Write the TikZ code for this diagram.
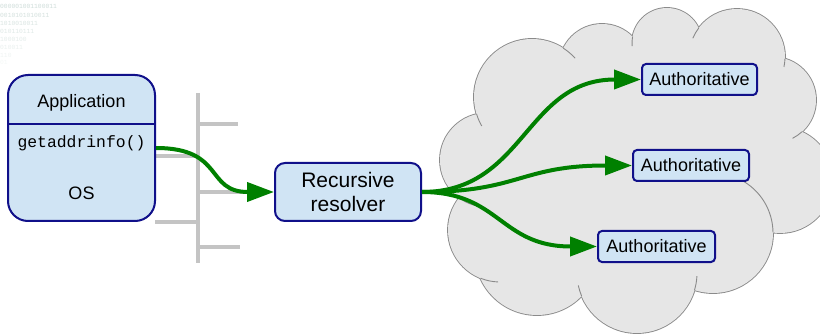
\documentclass[tikz,border=0pt]{standalone}
\usepackage{fontspec}
\setmainfont{Liberation Sans}
\newfontfamily\codefont{Liberation Mono}
\usetikzlibrary{arrows.meta}

\definecolor{boxfill}{HTML}{D0E4F4}
\definecolor{boxline}{HTML}{10108A}
\definecolor{flow}{HTML}{008000}
\definecolor{bus}{HTML}{C4C4C4}
\definecolor{cloudfill}{HTML}{E6E6E6}
\definecolor{cloudline}{HTML}{8A8A8A}
\definecolor{bits}{HTML}{C8D8D4}

\tikzset{
  hostbox/.style={draw=boxline, fill=boxfill, line width=2pt, inner sep=0pt},
  lbl/.style={inner sep=0pt, font=\fontsize{18}{21}\selectfont},
  codelbl/.style={inner sep=0pt, font=\codefont\fontsize{16.4}{19}\selectfont},
  busline/.style={draw=bus, line width=4pt},
  flowarrow/.style={draw=flow, line width=4pt,
    -{Triangle[length=27pt,width=19pt]}},
  cloudrim/.style={draw=cloudline, line width=0.9pt},
  bitrow/.style={anchor=west, inner sep=0pt, text=bits,
    font=\codefont\fontsize{6.3}{7}\selectfont}
}

\begin{document}
\begin{tikzpicture}[x=1pt,y=-1pt]
\useasboundingbox (0,0) rectangle (820,334);

% faint binary texture in the top left corner
\node[bitrow, text opacity=0.9] at (0,6.5) {000001001100011};
\node[bitrow, text opacity=0.8] at (0,15) {0010101010011};
\node[bitrow, text opacity=0.7] at (0,23.5) {1010010011};
\node[bitrow, text opacity=0.6] at (0,31) {010110111};
\node[bitrow, text opacity=0.5] at (0,39) {1000100};
\node[bitrow, text opacity=0.4] at (0,47) {010011};
\node[bitrow, text opacity=0.3] at (0,55) {110};
\node[bitrow, text opacity=0.2] at (0,62.5) {01};

% the cloud: a union of round bumps with an outline on its rim only
\foreach \cx/\cy/\rr in {532/97/58,602/67/43,667/43/35,737/57/48,773/100/43,780/180/53,713/233/60,637/273/60,537/253/62,500/230/52,487/160/47}
  \fill[cloudline] (\cx,\cy) circle[radius=\rr+0.9];
\foreach \cx/\cy/\rr in {532/97/58,602/67/43,667/43/35,737/57/48,773/100/43,780/180/53,713/233/60,637/273/60,537/253/62,500/230/52,487/160/47}
  \fill[cloudfill] (\cx,\cy) circle[radius=\rr];
\fill[cloudfill] (532,97) -- (602,67) -- (667,43) -- (737,57) -- (773,100)
  -- (780,180) -- (713,233) -- (637,273) -- (537,253) -- (500,230)
  -- (487,160) -- cycle;
% ends of the bumps that run on a little into the cloud
\foreach \cx/\cy/\rr/\sa/\ea in {532/97/58/-57.4/-42, 667/43/35/190.5/175,
    737/57/48/217/203, 737/57/48/2/12, 773/100/43/47.5/63, 713/233/60/-0.5/-63,
    637/273/60/16.6/3, 637/273/60/157.5/168, 500/230/52/112/92,
    487/160/47/126.3/97, 532/97/58/162.8/150}
  \draw[cloudrim] (\cx,\cy) ++(\sa:\rr) arc[start angle=\sa, end angle=\ea, radius=\rr];

% network bus between host and resolver
\draw[busline] (198,93) -- (198,263);
\draw[busline] (198,124) -- (238,124);
\draw[busline] (155,156) -- (198,156);
\draw[busline] (198,192) -- (250,192);
\draw[busline] (155,222) -- (198,222);
\draw[busline] (198,247) -- (240,247);

% host
\node[hostbox, rounded corners=20pt, minimum width=147pt, minimum height=146pt]
  (app) at (81.5,148) {};
\coordinate (divl) at (8,124);
\coordinate (divr) at (155,124);
\draw[draw=boxline, line width=2pt] (divl) -- (divr);
\node[lbl] (apptitle) at (81.5,103) {Application};
\node[codelbl] (gai) at (81.5,143) {getaddrinfo()};
\node[lbl] (os) at (81.5,193) {OS};

% resolver
\node[hostbox, rounded corners=10pt, minimum width=146pt, minimum height=58pt,
  align=center, font=\fontsize{21}{24}\selectfont]
  (res) at (348,192) {Recursive\\resolver};

% authoritative servers
\node[hostbox, rounded corners=4pt, minimum width=115pt, minimum height=31pt,
  font=\fontsize{18}{21}\selectfont] (auth1) at (699.5,79.5) {Authoritative};
\node[hostbox, rounded corners=4pt, minimum width=116pt, minimum height=31pt,
  font=\fontsize{18}{21}\selectfont] (auth2) at (691,165.5) {Authoritative};
\node[hostbox, rounded corners=4pt, minimum width=117pt, minimum height=31pt,
  font=\fontsize{18}{21}\selectfont] (auth3) at (656.5,246.5) {Authoritative};

% query flow
\draw[flowarrow] (app.east) .. controls (225,148) and (205,192) .. (res.west);
\draw[flowarrow] (res.east) .. controls (525,192) and (525,79.5) .. (auth1.west);
\draw[flowarrow] (res.east) .. controls (520,192) and (520,165.5) .. (auth2.west);
\draw[flowarrow] (res.east) .. controls (500,192) and (500,246.5) .. (auth3.west);
\end{tikzpicture}
\end{document}
